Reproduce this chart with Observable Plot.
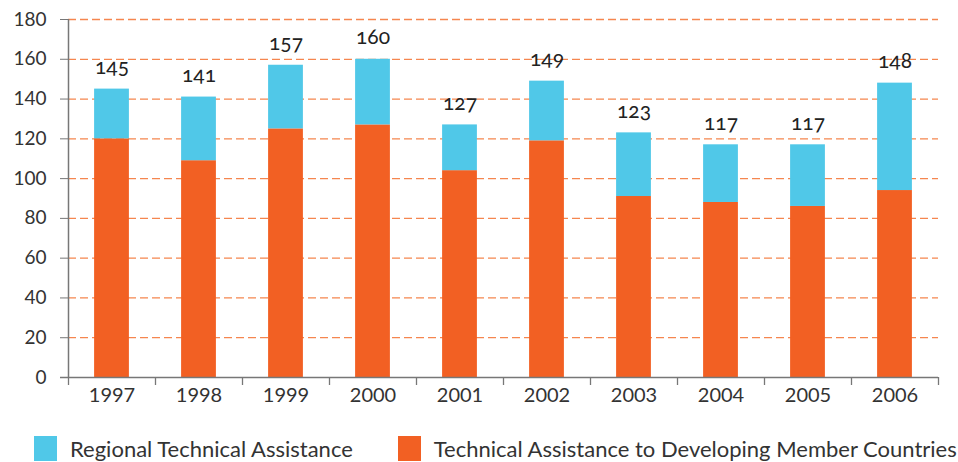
<!DOCTYPE html>
<html>
<head>
<meta charset="utf-8">
<script src="https://cdn.jsdelivr.net/npm/d3@7"></script>
<script src="https://cdn.jsdelivr.net/npm/@observablehq/plot@0.6"></script>
<style>
  body { margin: 0; background: #fff; font-family: Lato, "Open Sans", sans-serif; }
  #chart svg { font-family: Lato, "Open Sans", sans-serif; font-variant-numeric: oldstyle-nums; }
  .legend { display: flex; align-items: center; margin-top: 15px; padding-left: 34px; font-size: 22px; color: #333; white-space: nowrap; }
  .legend .item { display: flex; align-items: center; }
  .legend .sw { width: 23px; height: 25px; margin-right: 13px; }
</style>
</head>
<body>
<div id="chart"></div>
<script>
const years = [1997, 1998, 1999, 2000, 2001, 2002, 2003, 2004, 2005, 2006];
const tadmc = [120, 109, 125, 127, 104, 119, 91, 88, 86, 94];   // Technical Assistance to Developing Member Countries
const rta   = [25, 32, 32, 33, 23, 30, 32, 29, 31, 54];          // Regional Technical Assistance
const totals = [145, 141, 157, 160, 127, 149, 123, 117, 117, 148];
const yTicks = [0, 20, 40, 60, 80, 100, 120, 140, 160, 180];
const seriesNames = ["Regional Technical Assistance", "Technical Assistance to Developing Member Countries"];
const colors = ["#50c8e8", "#f26023"];

// stacked table built from the arrays
const rows = [];
years.forEach((yr, i) => {
  rows.push({year: yr, series: seriesNames[1], y1: 0, y2: tadmc[i]});
  rows.push({year: yr, series: seriesNames[0], y1: tadmc[i], y2: tadmc[i] + rta[i]});
});
const labels = years.map((yr, i) => ({year: yr, total: totals[i]}));
const boundaries = years.map(y => y - 0.5).concat([years[years.length - 1] + 0.5]);
const half = 0.2;

const chart = Plot.plot({
  width: 958,
  height: 420,
  marginLeft: 68,
  marginRight: 20,
  marginTop: 19,
  marginBottom: 43,
  x: {type: "linear", domain: [years[0] - 0.5, years[years.length - 1] + 0.5], label: null},
  y: {domain: [0, 180], label: null},
  color: {domain: seriesNames, range: colors},
  style: {fontSize: "19px", color: "#333"},
  marks: [
    Plot.ruleY(yTicks.filter(d => d > 0), {stroke: "#f5864f", strokeWidth: 1.3, strokeDasharray: "8,4"}),
    Plot.rectY(rows, {x1: d => d.year - half, x2: d => d.year + half, y1: "y1", y2: "y2", fill: "series"}),
    Plot.text(labels, {x: "year", y: "total", text: d => String(d.total), dy: -22, fontSize: 21, fill: "#222"}),
    Plot.axisY({ticks: yTicks, tickSize: 8, tickPadding: 14, stroke: "#777", fill: "#333", fontSize: 19, label: null}),
    Plot.ruleX([years[0] - 0.5], {stroke: "#777", strokeWidth: 1.5}),
    Plot.axisX({ticks: years, tickSize: 0, tickPadding: 10, tickFormat: d => String(d), fill: "#333", fontSize: 20, label: null}),
    Plot.axisX({ticks: boundaries, tickSize: 8, tickFormat: () => "", stroke: "#777", strokeWidth: 1.3, label: null}),
    Plot.ruleY([0], {stroke: "#777", strokeWidth: 1.5, insetLeft: -8})
  ]
});
document.getElementById("chart").appendChild(chart);

const legend = document.createElement("div");
legend.className = "legend";
seriesNames.forEach((name, i) => {
  const item = document.createElement("div");
  item.className = "item";
  item.style.marginRight = i === 0 ? "45px" : "0";
  const sw = document.createElement("div");
  sw.className = "sw";
  sw.style.background = colors[i];
  const t = document.createElement("span");
  t.textContent = name;
  item.appendChild(sw);
  item.appendChild(t);
  legend.appendChild(item);
});
document.body.appendChild(legend);
</script>
</body>
</html>
